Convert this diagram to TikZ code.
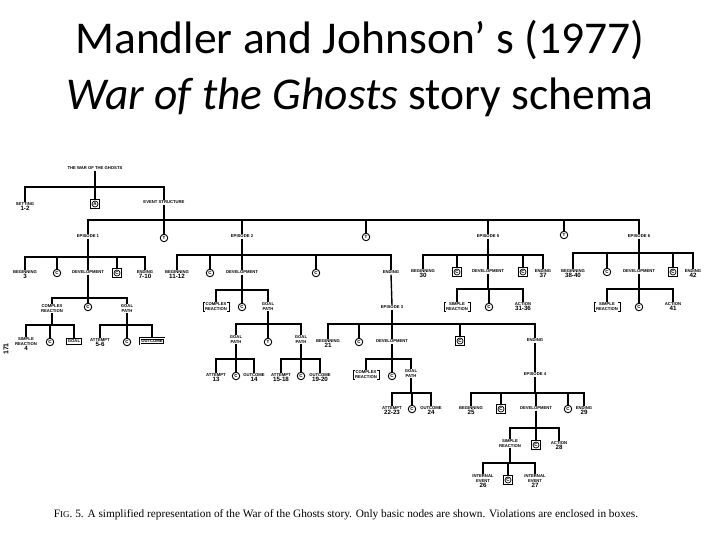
\documentclass[tikz,border=0pt]{standalone}
\usepackage{fontspec}
\setmainfont{Carlito}
\newfontfamily\lblfam{Liberation Sans}
\newfontfamily\capfam{Liberation Serif}

\newcommand\nm[1]{{\fontsize{6.2}{6.2}\selectfont #1}}
% parent, y of the bar, children
\newcommand\tree[3]{%
  \draw[tr] (#1.south) -- (#1.south |- 0,#2);
  \foreach \c in {#3} \draw[tr] (#1.south |- 0,#2) -| (\c.north);
}
% brackets round a node
\newcommand\brk[1]{%
  \draw[line width=0.8pt] ([xshift=1.5pt]#1.north west) -- (#1.north west) -- (#1.south west) -- ([xshift=1.5pt]#1.south west)
    ([xshift=-1.5pt]#1.north east) -- (#1.north east) -- (#1.south east) -- ([xshift=-1.5pt]#1.south east);
}

\begin{document}
\begin{tikzpicture}[x=1pt, y=-1pt,
  tr/.style={line width=1.4pt},
  lbl/.style={anchor=north, align=center, inner sep=0.6pt, font=\lblfam\bfseries\fontsize{4.2}{4.9}\selectfont},
  con/.style={circle, draw, line width=0.9pt, inner sep=0pt, minimum size=7.5pt, font=\lblfam\bfseries\fontsize{4.5}{4.5}\selectfont},
  vio/.style={rectangle, draw, line width=1.3pt, inner sep=0pt, minimum size=9.5pt, font=\lblfam\bfseries\fontsize{4.5}{4.5}\selectfont,
    path picture={\draw[line width=0.7pt] (path picture bounding box.center) circle (3pt);}},
  boxed/.style={lbl, draw, line width=0.9pt, inner sep=1.3pt},
  bracketed/.style={lbl, inner xsep=1.8pt, inner ysep=0.8pt}]

\useasboundingbox (0,0) rectangle (720,540);

% title
\node[font=\fontsize{45.5}{48}\selectfont] (title1) at (360,40) {Mandler and Johnson’ s (1977)};
\node[font=\fontsize{45.5}{48}\selectfont] (title2) at (360,97) {\textit{War of the Ghosts} story schema};

% top of the story
\node[lbl] (war) at (95,166) {THE WAR OF THE GHOSTS};
\node[lbl] (set) at (25,202) {SETTING\\\nm{1-2}};
\node[vio] (a0) at (95,204) {A};
\node[lbl] (evs) at (164,200) {EVENT STRUCTURE};
\tree{war}{187}{set,a0,evs}

\node[lbl] (ep1) at (88,234) {EPISODE 1};
\node[con] (t1) at (164,238) {T};
\node[lbl] (ep2) at (242,234) {EPISODE 2};
\node[con] (t2) at (366,237) {T};
\node[lbl] (ep5) at (488,234) {EPISODE 5};
\node[con] (t3) at (564,235) {T};
\node[lbl] (ep6) at (639,234) {EPISODE 6};
\tree{evs}{220}{ep1,t1,ep2,t2,ep5,t3,ep6}

% episode 1
\node[lbl] (b1) at (25,270) {BEGINNING\\\nm{3}};
\node[con] (c1a) at (57,273) {C};
\node[lbl] (d1) at (88,270) {DEVELOPMENT};
\node[vio] (v1a) at (117,273) {C};
\node[lbl] (e1) at (145,270) {ENDING\\\nm{7-10}};
\tree{ep1}{257}{b1,c1a,d1,v1a,e1}

\node[lbl] (cr1) at (52,304) {COMPLEX\\REACTION};
\node[con] (c1b) at (88,307) {C};
\node[lbl] (gp1) at (127,304) {GOAL\\PATH};
\tree{d1}{298}{cr1,c1b,gp1}

\node[lbl] (sr1) at (26,337) {SIMPLE\\REACTION\\\nm{4}};
\node[con] (c1c) at (50,342) {C};
\node[boxed] (g1) at (74,338) {GOAL};
\tree{cr1}{325}{sr1,c1c,g1}

\node[lbl] (at1) at (100,338) {ATTEMPT\\\nm{5-6}};
\node[con] (c1d) at (127,342) {C};
\node[boxed, double, double distance=0.8pt] (oc1) at (152,338) {OUTCOME};
\tree{gp1}{325}{at1,c1d,oc1}

% episode 2
\node[lbl] (b2) at (177,270) {BEGINNING\\\nm{11-12}};
\node[con] (c2a) at (210,273) {C};
\node[lbl] (d2) at (242,270) {DEVELOPMENT};
\node[con] (c2b) at (316,273) {C};
\node[lbl] (e2) at (391,270) {ENDING};
\tree{ep2}{255}{b2,c2a,d2,c2b,e2}

\node[bracketed] (cr2) at (216,302) {COMPLEX\\REACTION};
\brk{cr2}
\node[con] (c2c) at (242,307) {C};
\node[lbl] (gp2) at (268,302) {GOAL\\PATH};
\tree{d2}{290}{cr2,c2c,gp2}

\node[lbl] (gp2a) at (236,335) {GOAL\\PATH};
\node[con] (c2d) at (268,342) {T};
\node[lbl] (gp2b) at (301,335) {GOAL\\PATH};
\tree{gp2}{324}{gp2a,c2d,gp2b}

\node[lbl] (at2a) at (216,373) {ATTEMPT\\\nm{13}};
\node[con] (c2e) at (236,376) {C};
\node[lbl] (oc2a) at (254,373) {OUTCOME\\\nm{14}};
\tree{gp2a}{359}{at2a,c2e,oc2a}

\node[lbl] (at2b) at (281,373) {ATTEMPT\\\nm{15-18}};
\node[con] (c2f) at (301,376) {C};
\node[lbl] (oc2b) at (320,373) {OUTCOME\\\nm{19-20}};
\tree{gp2b}{359}{at2b,c2f,oc2b}

% episode 3
\node[lbl] (ep3) at (392,305) {EPISODE 3};
\draw[tr] (e2.south) -- (ep3.north);

\node[lbl] (b3) at (328,339) {BEGINNING\\\nm{21}};
\node[con] (c3a) at (359,342) {C};
\node[lbl] (d3) at (392,339) {DEVELOPMENT};
\node[vio] (v3a) at (460,341) {C};
\node[lbl] (e3) at (535,338) {ENDING};
\tree{ep3}{324}{b3,c3a,d3,v3a,e3}

\node[bracketed] (cr3) at (366,370) {COMPLEX\\REACTION};
\brk{cr3}
\node[con] (c3b) at (392,376) {C};
\node[lbl] (gp3) at (411,369) {GOAL\\PATH};
\tree{d3}{359}{cr3,c3b,gp3}

\node[lbl] (at3) at (392,406) {ATTEMPT\\\nm{22-23}};
\node[con] (c3c) at (412,409) {C};
\node[lbl] (oc3) at (431,406) {OUTCOME\\\nm{24}};
\tree{gp3}{393}{at3,c3c,oc3}

% episode 4
\node[lbl] (ep4) at (535,372) {EPISODE 4};
\draw[tr] (e3.south) -- (ep4.north);

\node[lbl] (b4) at (471,406) {BEGINNING\\\nm{25}};
\node[vio] (v4a) at (501,409) {C};
\node[lbl] (d4) at (536,406) {DEVELOPMENT};
\node[con] (c4a) at (568,409) {C};
\node[lbl] (e4) at (584,406) {ENDING\\\nm{29}};
\tree{ep4}{393}{b4,v4a,d4,c4a,e4}

\node[lbl] (sr4) at (510,439) {SIMPLE\\REACTION};
\node[vio] (v4b) at (536,445) {C};
\node[lbl] (ac4) at (559,441) {ACTION\\\nm{28}};
\tree{d4}{428}{sr4,v4b,ac4}

\node[lbl] (ie1) at (483,474) {INTERNAL\\EVENT\\\nm{26}};
\node[vio] (v4c) at (508,480) {C};
\node[lbl] (ie2) at (535,474) {INTERNAL\\EVENT\\\nm{27}};
\tree{sr4}{463}{ie1,v4c,ie2}

% episode 5
\node[lbl] (b5) at (423,269) {BEGINNING\\\nm{30}};
\node[vio] (v5a) at (457,272) {C};
\node[lbl] (d5) at (488,269) {DEVELOPMENT};
\node[vio] (v5b) at (523,272) {C};
\node[lbl] (e5) at (543,269) {ENDING\\\nm{37}};
\tree{ep5}{255}{b5,v5a,d5,v5b,e5}

\node[bracketed] (sr5) at (457,302) {SIMPLE\\REACTION};
\brk{sr5}
\node[con] (c5a) at (489,307) {C};
\node[lbl] (ac5) at (523,302) {ACTION\\\nm{31-36}};
\tree{d5}{289}{sr5,c5a,ac5}

% episode 6
\node[lbl] (b6) at (573,269) {BEGINNING\\\nm{38-40}};
\node[con] (c6a) at (607,272) {C};
\node[lbl] (d6) at (639,269) {DEVELOPMENT};
\node[vio] (v6a) at (673,272) {C};
\node[lbl] (e6) at (693,269) {ENDING\\\nm{42}};
\tree{ep6}{253}{b6,c6a,d6,v6a,e6}

\node[bracketed] (sr6) at (607,302) {SIMPLE\\REACTION};
\brk{sr6}
\node[con] (c6b) at (639,307) {C};
\node[lbl] (ac6) at (673,302) {ACTION\\\nm{41}};
\tree{d6}{289}{sr6,c6b,ac6}

% page number and caption
\node[rotate=90, font=\lblfam\bfseries\fontsize{7}{7}\selectfont] (pg) at (6,349) {171};
\node[font=\capfam\fontsize{11.3}{13}\selectfont] (cap) at (346,515)
  {F{\fontsize{9}{10}\selectfont IG}. 5. A simplified representation of the War of the Ghosts story. Only basic nodes are shown. Violations are enclosed in boxes.};

\end{tikzpicture}
\end{document}
